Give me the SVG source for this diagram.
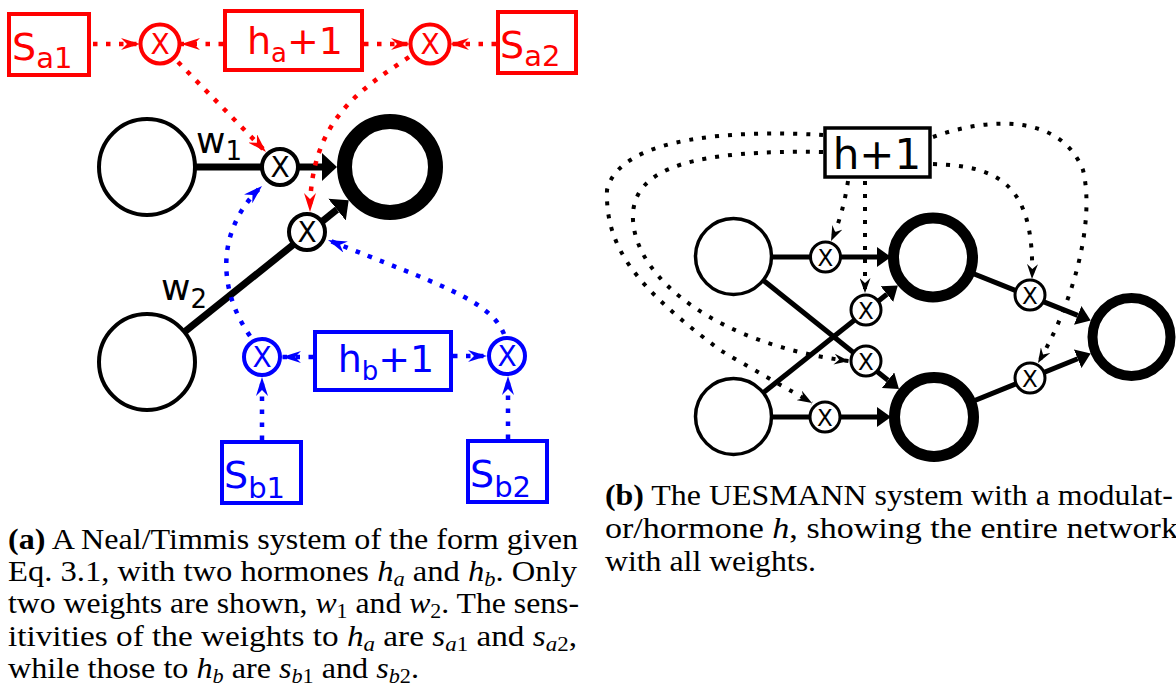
<svg xmlns="http://www.w3.org/2000/svg" width="1176" height="700" viewBox="0 0 1176 700">
<style>
.lbl{font-family:"DejaVu Sans","Liberation Sans",sans-serif}
.cap{font-family:"Liberation Serif","DejaVu Serif",serif;font-size:29px;fill:#000}
.it{font-style:italic}
.sub{font-style:italic;font-size:20px}
.subn{font-size:20px}
.boxR{fill:#fff;stroke:#f00;stroke-width:4}
.boxB{fill:#fff;stroke:#00f;stroke-width:4}
.boxK{fill:#fff;stroke:#000;stroke-width:3.5}
.nA{fill:#fff;stroke:#000;stroke-width:4}
.nB{fill:#fff;stroke:#000;stroke-width:3.5}
.mA{fill:#fff;stroke:#000;stroke-width:4}
.mR{fill:#fff;stroke:#f00;stroke-width:4}
.mBl{fill:#fff;stroke:#00f;stroke-width:4}
.mK{fill:#fff;stroke:#000;stroke-width:3}
.solA{stroke:#000;stroke-width:7;fill:none}
.solB{stroke:#000;stroke-width:5;fill:none}
.dotR{fill:none;stroke:#f00;stroke-width:4.5;stroke-dasharray:4.5 8.5}
.dotB{fill:none;stroke:#00f;stroke-width:4.5;stroke-dasharray:4.5 8.5}
.dotK{fill:none;stroke:#000;stroke-width:4;stroke-dasharray:4 9}
.xA{font-family:"DejaVu Sans",sans-serif;font-size:28px;text-anchor:middle}
.xB{font-family:"DejaVu Sans",sans-serif;font-size:23px;text-anchor:middle}
</style>
<defs>
<marker id="arA" viewBox="0 -14 15 28" refX="0" refY="0" markerWidth="15" markerHeight="28" markerUnits="userSpaceOnUse" orient="auto"><path d="M0,-14 L15,0 L0,14 Z" fill="#000"/></marker>
<marker id="arB" viewBox="0 -10 14 20" refX="0" refY="0" markerWidth="14" markerHeight="20" markerUnits="userSpaceOnUse" orient="auto"><path d="M0,-10 L14,0 L0,10 Z" fill="#000"/></marker>
<marker id="stR" viewBox="-19 -6 19 12" refX="0" refY="0" markerWidth="19" markerHeight="12" markerUnits="userSpaceOnUse" orient="auto"><path d="M0,0 L-19,-6 L-13,0 L-19,6 Z" fill="#f00"/></marker>
<marker id="stB" viewBox="-19 -6 19 12" refX="0" refY="0" markerWidth="19" markerHeight="12" markerUnits="userSpaceOnUse" orient="auto"><path d="M0,0 L-19,-6 L-13,0 L-19,6 Z" fill="#00f"/></marker>
<marker id="stK" viewBox="-15 -5.5 15 11" refX="0" refY="0" markerWidth="15" markerHeight="11" markerUnits="userSpaceOnUse" orient="auto"><path d="M0,0 L-15,-5.5 L-10,0 L-15,5.5 Z" fill="#000"/></marker>
</defs>

<g id="connectors">
  <line class="solA" x1="147" y1="167" x2="322" y2="167" marker-end="url(#arA)"/>
  <line class="solA" x1="147" y1="362" x2="337" y2="209.6" marker-end="url(#arA)"/>
  <line class="solB" x1="733.5" y1="257" x2="877" y2="257" marker-end="url(#arB)"/>
  <line class="solB" x1="733.5" y1="256.5" x2="888" y2="380.2" marker-end="url(#arB)"/>
  <line class="solB" x1="733.5" y1="416.5" x2="886.9" y2="294.2" marker-end="url(#arB)"/>
  <line class="solB" x1="733.5" y1="417" x2="877" y2="417" marker-end="url(#arB)"/>
  <line class="solB" x1="933" y1="257.5" x2="1077.7" y2="315.4" marker-end="url(#arB)"/>
  <line class="solB" x1="934" y1="417" x2="1077.7" y2="358.8" marker-end="url(#arB)"/>
</g>

<g id="a-in1"><circle class="nA" cx="147" cy="167" r="48"/></g>
<g id="a-in2"><circle class="nA" cx="147" cy="362" r="48"/></g>
<g id="a-out"><circle cx="390" cy="167" r="45.5" fill="#fff" stroke="#000" stroke-width="15"/></g>
<g id="a-m1"><circle class="mA" cx="280" cy="167" r="18"/><text class="xA" x="280" y="177">X</text></g>
<g id="a-m2"><circle class="mA" cx="307" cy="232" r="18"/><text class="xA" x="307" y="242">X</text></g>

<g id="a-sa1"><rect class="boxR" x="9" y="14" width="80" height="61"/><text class="lbl" x="12" y="60" fill="#f00" font-size="38">S<tspan font-size="29" dy="8">a1</tspan></text></g>
<g id="a-ha"><rect class="boxR" x="225" y="11" width="137" height="59"/><text class="lbl" x="295" y="54" fill="#f00" font-size="38" text-anchor="middle">h<tspan font-size="26" dy="8">a</tspan><tspan dy="-8">+1</tspan></text></g>
<g id="a-sa2"><rect class="boxR" x="498" y="12" width="78" height="61"/><text class="lbl" x="500" y="58" fill="#f00" font-size="38">S<tspan font-size="29" dy="8">a2</tspan></text></g>
<g id="a-ma1"><circle class="mR" cx="160" cy="44" r="19.5"/><text class="xA" x="160" y="54" fill="#f00">X</text></g>
<g id="a-ma2"><circle class="mR" cx="430" cy="44" r="19.5"/><text class="xA" x="430" y="54" fill="#f00">X</text></g>

<g id="a-hb"><rect class="boxB" x="315" y="332" width="136" height="58"/><text class="lbl" x="386" y="372" fill="#00f" font-size="38" text-anchor="middle">h<tspan font-size="26" dy="8">b</tspan><tspan dy="-8">+1</tspan></text></g>
<g id="a-sb1"><rect class="boxB" x="222" y="442" width="79" height="61"/><text class="lbl" x="224" y="488" fill="#00f" font-size="38">S<tspan font-size="29" dy="10">b1</tspan></text></g>
<g id="a-sb2"><rect class="boxB" x="468" y="441" width="79" height="61"/><text class="lbl" x="470" y="487" fill="#00f" font-size="38">S<tspan font-size="29" dy="10">b2</tspan></text></g>
<g id="a-mb1"><circle class="mBl" cx="262" cy="357" r="18"/><text class="xA" x="262" y="367" fill="#00f">X</text></g>
<g id="a-mb2"><circle class="mBl" cx="507" cy="356" r="18"/><text class="xA" x="507" y="366" fill="#00f">X</text></g>

<g id="b-h"><rect class="boxK" x="825" y="128" width="105" height="49"/><text class="lbl" x="877" y="169" font-size="42" text-anchor="middle">h+1</text></g>
<g id="b-in1"><circle class="nB" cx="733.5" cy="256.5" r="38"/></g>
<g id="b-in2"><circle class="nB" cx="733.5" cy="416.5" r="38"/></g>
<g id="b-h1"><circle cx="933" cy="257.5" r="39.5" fill="#fff" stroke="#000" stroke-width="11"/></g>
<g id="b-h2"><circle cx="934" cy="417" r="39.5" fill="#fff" stroke="#000" stroke-width="11"/></g>
<g id="b-out"><circle cx="1131.5" cy="337" r="39" fill="#fff" stroke="#000" stroke-width="10"/></g>
<g id="b-m1"><circle class="mK" cx="825.5" cy="257" r="15"/><text class="xB" x="825.5" y="265.5">X</text></g>
<g id="b-m2"><circle class="mK" cx="866" cy="310" r="15"/><text class="xB" x="866" y="318.5">X</text></g>
<g id="b-m3"><circle class="mK" cx="866" cy="361" r="15"/><text class="xB" x="866" y="369.5">X</text></g>
<g id="b-m4"><circle class="mK" cx="825" cy="417" r="15"/><text class="xB" x="825" y="425.5">X</text></g>
<g id="b-m5"><circle class="mK" cx="1030" cy="295" r="15"/><text class="xB" x="1030" y="303.5">X</text></g>
<g id="b-m6"><circle class="mK" cx="1030" cy="378" r="15"/><text class="xB" x="1030" y="386.5">X</text></g>

<g id="modulators">
  <text class="lbl" x="196" y="153" font-size="36">w<tspan font-size="26" dy="7">1</tspan></text>
  <text class="lbl" x="161" y="300" font-size="36">w<tspan font-size="26" dy="8">2</tspan></text>
  <line class="dotR" x1="93" y1="44" x2="140" y2="44" marker-end="url(#stR)"/>
  <line class="dotR" x1="223" y1="44" x2="181" y2="44" marker-end="url(#stR)"/>
  <line class="dotR" x1="364" y1="44" x2="410" y2="44" marker-end="url(#stR)"/>
  <line class="dotR" x1="496" y1="44" x2="450" y2="44" marker-end="url(#stR)"/>
  <path class="dotR" d="M178,62 L266,152" marker-end="url(#stR)"/>
  <path class="dotR" d="M409,57 C360,90 310,120 310,212" marker-end="url(#stR)"/>
  <line class="dotB" x1="262" y1="440" x2="262" y2="377" marker-end="url(#stB)"/>
  <line class="dotB" x1="508" y1="439" x2="508" y2="376" marker-end="url(#stB)"/>
  <line class="dotB" x1="313" y1="357" x2="282" y2="357" marker-end="url(#stB)"/>
  <line class="dotB" x1="453" y1="356" x2="487" y2="356" marker-end="url(#stB)"/>
  <path class="dotB" d="M250,336 C218,290 215,230 262,186" marker-end="url(#stB)"/>
  <path class="dotB" d="M504,334 C490,300 440,285 328,240" marker-end="url(#stB)"/>
  <path class="dotK" d="M848,181 Q843,215 831,241" marker-end="url(#stK)"/>
  <path class="dotK" d="M865,181 L865,293" marker-end="url(#stK)"/>
  <path class="dotK" d="M933,164 C1000,166 1035,185 1032,279" marker-end="url(#stK)"/>
  <path class="dotK" d="M933,137 C985,118 1060,112 1083,170 C1095,220 1075,300 1038,363" marker-end="url(#stK)"/>
  <path class="dotK" d="M823,135 C740,130 620,135 607,190 C605,250 640,290 720,350 C750,368 790,390 812,403" marker-end="url(#stK)"/>
  <path class="dotK" d="M823,152 C700,150 630,165 633,220 C636,280 720,345 849,361" marker-end="url(#stK)"/>
</g>

<g id="caption-a">
  <text class="cap" x="8" y="549" textLength="570" lengthAdjust="spacingAndGlyphs"><tspan font-weight="bold">(a)</tspan> A Neal/Timmis system of the form given</text>
  <text class="cap" x="8" y="581" textLength="569" lengthAdjust="spacingAndGlyphs">Eq. 3.1, with two hormones <tspan class="it">h</tspan><tspan class="sub" dy="5">a</tspan><tspan dy="-5"> and </tspan><tspan class="it">h</tspan><tspan class="sub" dy="5">b</tspan><tspan dy="-5">.  Only</tspan></text>
  <text class="cap" x="8" y="613" textLength="571" lengthAdjust="spacingAndGlyphs">two weights are shown, <tspan class="it">w</tspan><tspan class="subn" dy="5">1</tspan><tspan dy="-5"> and </tspan><tspan class="it">w</tspan><tspan class="subn" dy="5">2</tspan><tspan dy="-5">. The sens-</tspan></text>
  <text class="cap" x="8" y="646" textLength="569" lengthAdjust="spacingAndGlyphs">itivities of the weights to <tspan class="it">h</tspan><tspan class="sub" dy="5">a</tspan><tspan dy="-5"> are </tspan><tspan class="it">s</tspan><tspan class="sub" dy="5">a</tspan><tspan class="subn">1</tspan><tspan dy="-5"> and </tspan><tspan class="it">s</tspan><tspan class="sub" dy="5">a</tspan><tspan class="subn">2</tspan><tspan dy="-5">,</tspan></text>
  <text class="cap" x="8" y="678" textLength="411" lengthAdjust="spacingAndGlyphs">while those to <tspan class="it">h</tspan><tspan class="sub" dy="5">b</tspan><tspan dy="-5"> are </tspan><tspan class="it">s</tspan><tspan class="sub" dy="5">b</tspan><tspan class="subn">1</tspan><tspan dy="-5"> and </tspan><tspan class="it">s</tspan><tspan class="sub" dy="5">b</tspan><tspan class="subn">2</tspan><tspan dy="-5">.</tspan></text>
</g>

<g id="caption-b">
  <text class="cap" x="605" y="505" textLength="568" lengthAdjust="spacingAndGlyphs"><tspan font-weight="bold">(b)</tspan> The UESMANN system with a modulat-</text>
  <text class="cap" x="605" y="538" textLength="573" lengthAdjust="spacingAndGlyphs">or/hormone <tspan class="it">h</tspan>, showing the entire network</text>
  <text class="cap" x="605" y="571" textLength="211" lengthAdjust="spacingAndGlyphs">with all weights.</text>
</g>
</svg>
